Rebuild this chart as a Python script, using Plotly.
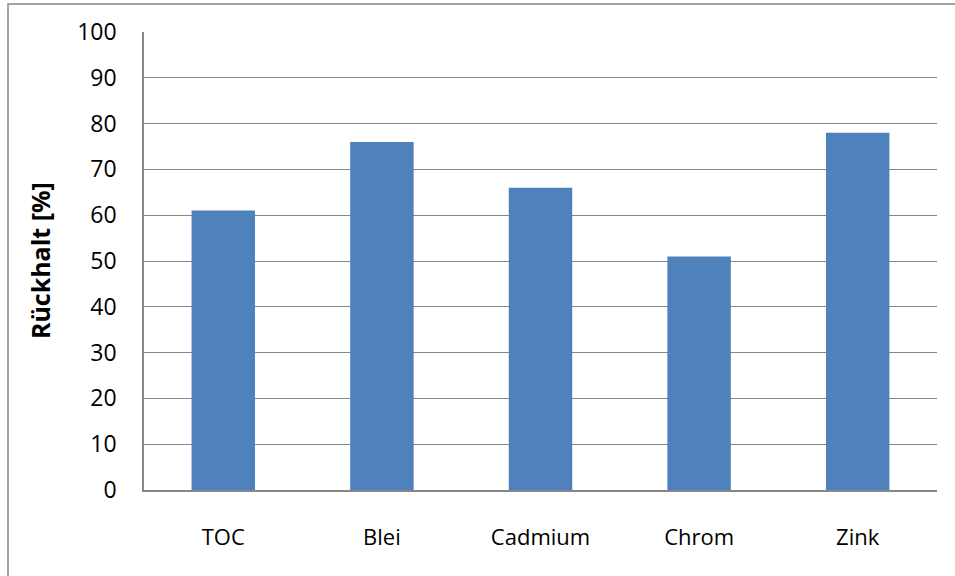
import plotly.graph_objects as go

categories = ["TOC", "Blei", "Cadmium", "Chrom", "Zink"]
values = [61, 76, 66, 51, 78]
y_ticks = [0, 10, 20, 30, 40, 50, 60, 70, 80, 90, 100]

FONT = "Open Sans, sans-serif"

fig = go.Figure()
fig.add_trace(go.Bar(x=categories, y=values, marker=dict(color="#4F81BD", line=dict(width=0)),
                     showlegend=False))

fig.update_layout(
    width=955, height=576,
    margin=dict(l=144, r=18, t=32, b=86),
    paper_bgcolor="white", plot_bgcolor="white",
    bargap=0.6,
    font=dict(family=FONT, size=22, color="black"),
    xaxis=dict(showgrid=False, showline=True, linecolor="#868686", linewidth=1.5,
               ticks="", ticklabelstandoff=27, tickfont=dict(size=22)),
    yaxis=dict(range=[0, 100], tickvals=y_ticks, showgrid=True, gridcolor="#868686",
               gridwidth=1.3, showline=True, linecolor="#868686", linewidth=1.5,
               zeroline=False, ticks="", ticklabelstandoff=21, tickfont=dict(size=23)),
    annotations=[dict(text="<b>Rückhalt [%]</b>", xref="paper", yref="paper",
                      x=-0.131, y=0.5, textangle=-90, showarrow=False,
                      font=dict(family=FONT, size=25, color="black"),
                      xanchor="center", yanchor="middle")],
    shapes=[dict(type="rect", xref="paper", yref="paper", x0=-0.1715, y0=-0.2,
                 x1=1.05, y1=1.0611, line=dict(color="#868686", width=1.5),
                 fillcolor="rgba(0,0,0,0)", layer="below")],
)

fig.write_html("out.html", config={"displayModeBar": False},
               post_script="document.body.style.margin='0';")
